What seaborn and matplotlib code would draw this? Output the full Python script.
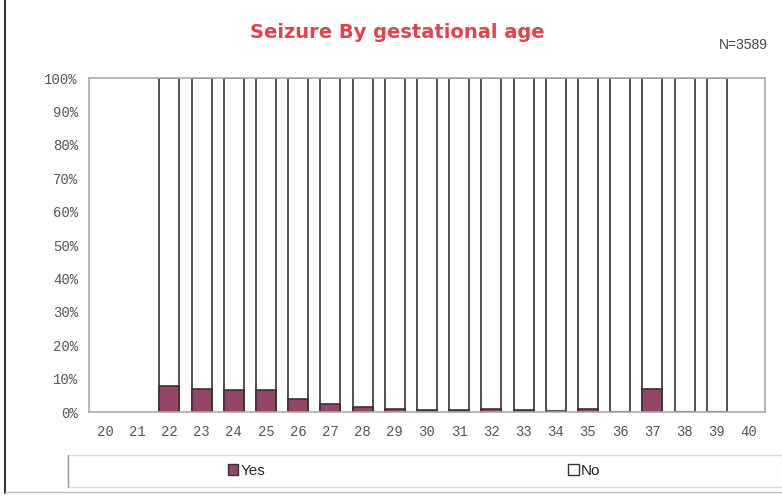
import numpy as np
import pandas as pd
import seaborn as sns
import matplotlib.pyplot as plt
from matplotlib.patches import Patch, Rectangle
from matplotlib.lines import Line2D

# gestational age (weeks) and % of infants with seizure
ages = [str(a) for a in range(20, 41)]
yes_pct = [np.nan, np.nan, 7.9, 6.9, 6.6, 6.6, 3.9, 2.4, 1.6, 0.9, 0.7,
           0.7, 0.8, 0.6, 0.3, 1.0, 0.0, 6.8, 0.0, 0.0, np.nan]
y_ticks = [0, 10, 20, 30, 40, 50, 60, 70, 80, 90, 100]
y_labels = [f'{t}%' for t in y_ticks]

df = pd.DataFrame({'age': ages, 'yes': yes_pct}).dropna()
df['no'] = 100 - df['yes']
df['total'] = df['yes'] + df['no']

sns.set_style('white')
fig = plt.figure(figsize=(7.82, 4.98), dpi=100)
ax = fig.add_axes([89 / 782, 1 - 412 / 498, 676 / 782, 334 / 498])

edge = '#333333'
sns.barplot(data=df, x='age', y='total', order=ages, color='white',
            edgecolor=edge, linewidth=1.2, width=0.62, saturation=1,
            errorbar=None, ax=ax)
sns.barplot(data=df, x='age', y='yes', order=ages, color='#94466a',
            edgecolor=edge, linewidth=1.2, width=0.62, saturation=1,
            errorbar=None, ax=ax)

ax.set_xlim(-0.5, len(ages) - 0.5)
ax.set_ylim(0, 100)
ax.set_yticks(y_ticks)
ax.set_yticklabels(y_labels)
ax.set_xlabel('')
ax.set_ylabel('')
ax.tick_params(axis='both', length=0, labelsize=10, colors='#555555')
ax.tick_params(axis='y', pad=8)
ax.tick_params(axis='x', pad=9)
for lab in ax.get_xticklabels() + ax.get_yticklabels():
    lab.set_family('Liberation Mono')
for sp in ax.spines.values():
    sp.set_visible(True)
    sp.set_color('#aaaaaa')
    sp.set_linewidth(1.2)

fig.text(397 / 782, 1 - 33 / 498, 'Seizure By gestational age', ha='center',
         va='center', fontsize=14, fontweight='bold', color='#e0434f',
         family='DejaVu Sans')
fig.text(768 / 782, 1 - 45 / 498, 'N=3589', ha='right', va='center',
         fontsize=10, color='#444444', family='Liberation Sans')

# legend box below the plot
fig.patches.append(Rectangle((68 / 782, 1 - 487 / 498), 714 / 782, 32 / 498,
                             transform=fig.transFigure, fill=False,
                             edgecolor='#dddddd', linewidth=1))
fig.lines.append(Line2D([68 / 782, 68 / 782], [1 - 487 / 498, 1 - 455 / 498],
                        transform=fig.transFigure, color='#999999', lw=1))
handles = [Patch(facecolor='#94466a', edgecolor=edge, label='Yes'),
           Patch(facecolor='white', edgecolor=edge, label='No')]
fig.legend(handles=handles, loc='center', ncol=2,
           bbox_to_anchor=(414 / 782, 1 - 471 / 498), frameon=False,
           handlelength=0.7, handleheight=0.7, handletextpad=0.15,
           columnspacing=19.8, prop={'family': 'Liberation Sans', 'size': 11})

# outer frame
fig.lines.append(Line2D([5 / 782, 5 / 782], [0.01, 1.0],
                        transform=fig.transFigure, color='#333333', lw=1.5))
fig.lines.append(Line2D([0.006, 1.0], [1 - 492 / 498, 1 - 492 / 498],
                        transform=fig.transFigure, color='#bbbbbb', lw=1))

plt.savefig('out.png', dpi=100)
